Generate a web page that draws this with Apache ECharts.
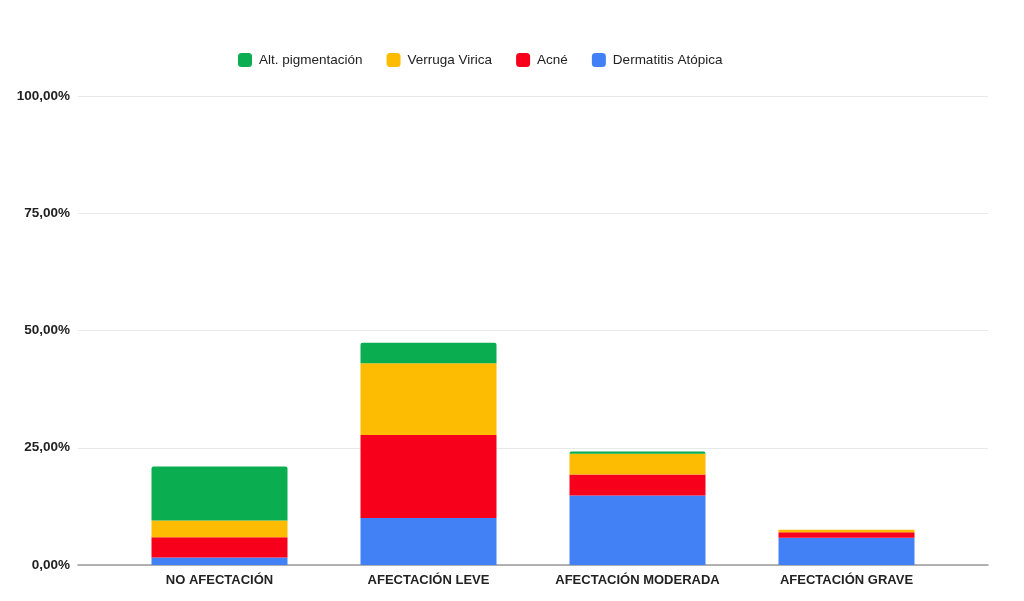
<!DOCTYPE html>
<html>
<head>
<meta charset="utf-8">
<script src="https://cdn.jsdelivr.net/npm/echarts@6/dist/echarts.min.js"></script>
<style>
html,body{margin:0;padding:0;background:#fff;}
#chart{width:1024px;height:601px;}
</style>
</head>
<body>
<div id="chart"></div>
<script>
const categories = ['NO AFECTACIÓN', 'AFECTACIÓN LEVE', 'AFECTACIÓN MODERADA', 'AFECTACIÓN GRAVE'];
const dermatitisAtopica = [1.6, 10.0, 14.8, 5.8];
const acne = [4.3, 17.7, 4.5, 1.2];
const verrugaVirica = [3.6, 15.3, 4.4, 0.5];
const altPigmentacion = [11.5, 4.4, 0.5, 0];
const yTicks = [0, 25, 50, 75, 100];

const seriesNames = ['Dermatitis Atópica', 'Acné', 'Verruga Virica', 'Alt. pigmentación'];
const colors = ['#4281f5', '#f7001b', '#fdbc02', '#0aad4f'];
const dataSets = [dermatitisAtopica, acne, verrugaVirica, altPigmentacion];

const chart = echarts.init(document.getElementById('chart'), null, {renderer: 'canvas'});
const fmt = v => v.toFixed(2).replace('.', ',') + '%';

chart.setOption({
  animation: false,
  backgroundColor: '#ffffff',
  legend: {
    data: ['Alt. pigmentación', 'Verruga Virica', 'Acné', 'Dermatitis Atópica'],
    top: 48,
    left: 233,
    itemWidth: 14,
    itemHeight: 14,
    itemGap: 24,
    icon: 'roundRect',
    textStyle: {fontFamily: 'Liberation Sans', fontSize: 13.5, color: '#222', padding: [0, 0, 0, 2]}
  },
  grid: [
    {left: 78, right: 36, top: 96, bottom: 36},
    {left: 115, right: 73, top: 96, bottom: 36}
  ],
  xAxis: [
    {
      gridIndex: 0, type: 'category', data: categories,
      axisLine: {lineStyle: {color: '#9a9a9a', width: 1.5}},
      axisTick: {show: false}, axisLabel: {show: false}
    },
    {
      gridIndex: 1, type: 'category', data: categories,
      axisLine: {show: false}, axisTick: {show: false},
      axisLabel: {interval: 0, fontFamily: 'Liberation Sans', fontWeight: 'bold', fontSize: 13, color: '#222', margin: 9}
    }
  ],
  yAxis: [
    {
      gridIndex: 0, type: 'value', min: 0, max: 100, interval: 25,
      axisLine: {show: false}, axisTick: {show: false},
      splitLine: {lineStyle: {color: '#e8e8e8', width: 1}},
      axisLabel: {formatter: fmt, fontFamily: 'Liberation Sans', fontWeight: 'bold', fontSize: 13.5, color: '#222', margin: 8}
    },
    {
      gridIndex: 1, type: 'value', min: 0, max: 100, interval: 25,
      show: false
    }
  ],
  series: dataSets.map((d, i) => ({
    name: seriesNames[i],
    type: 'bar',
    stack: 'total',
    xAxisIndex: 1,
    yAxisIndex: 1,
    barWidth: 136,
    itemStyle: {color: colors[i], borderRadius: i === 3 ? [2, 2, 0, 0] : 0},
    data: d
  }))
});
</script>
</body>
</html>
